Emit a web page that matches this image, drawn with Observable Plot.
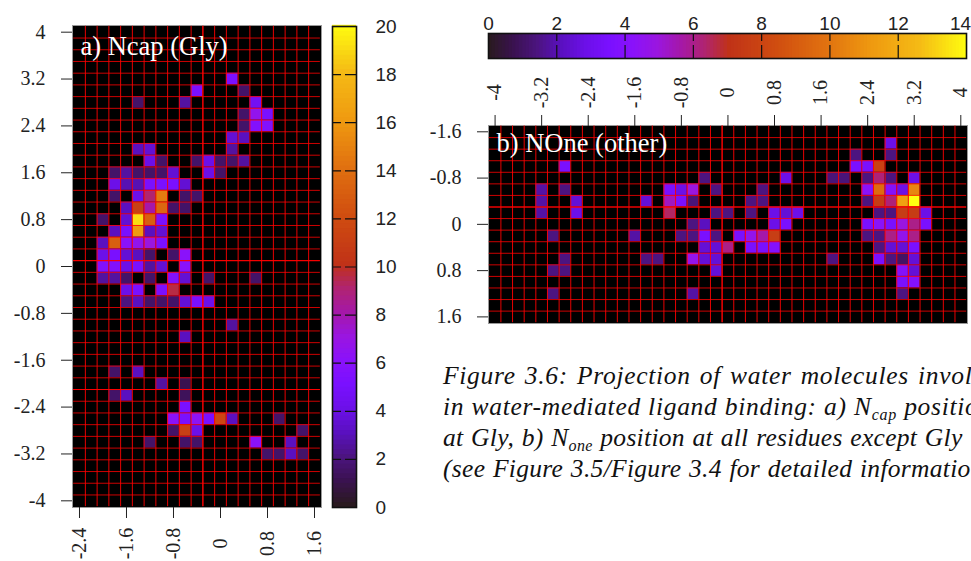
<!DOCTYPE html>
<html><head><meta charset="utf-8">
<script src="https://cdn.jsdelivr.net/npm/d3@7"></script>
<script src="https://cdn.jsdelivr.net/npm/@observablehq/plot@0.6"></script>
<style>
html,body{margin:0;padding:0;background:#fff;width:971px;height:561px;overflow:hidden}
#root{position:relative;width:971px;height:561px;overflow:hidden}
.cap{position:absolute;left:443px;white-space:nowrap;font:italic 25.5px "Liberation Serif",serif;color:#111;line-height:30px}
.cap sub{font-size:16px;line-height:0;vertical-align:-5px}
</style></head><body><div id="root"></div>
<script>
// Panel a) Ncap (Gly): one entry per occupied bin
const aY=[3.2, 3,3, 2.8,2.8,2.8, 2.6,2.6,2.6, 2.4,2.4,2.4, 2.2,2.2, 2,2,2,
 1.8,1.8,1.8,1.8,1.8,1.8,1.8, 1.6,1.6,1.6,1.6,1.6,1.6,1.6,1.6, 1.4,1.4,1.4,1.4,1.4,1.4,1.4,
 1.2,1.2,1.2,1.2,1.2,1.2, 1,1,1,1,1,1, .8,.8,.8,.8,.8, .6,.6,.6,.6,.6, .4,.4,.4,.4,.4,.4,
 .2,.2,.2,.2,.2,.2,.2, 0,0,0,0,0,0,0, -.2,-.2,-.2,-.2,-.2,-.2,-.2,-.2, -.4,-.4,-.4,-.4,
 -.6,-.6,-.6,-.6,-.6,-.6,-.6,-.6, -1, -1.2, -1.8,-1.8, -2,-2, -2.2,-2.2,-2.2, -2.4,
 -2.6,-2.6,-2.6,-2.6,-2.6,-2.6,-2.6, -2.8,-2.8,-2.8,-2.8, -3,-3,-3,-3,-3, -3.2,-3.2,-3.2,-3.2];
const aX=[.2, -.4,.4, -1.4,-.6,.6, .4,.6,.8, .4,.6,.8, .2,.4, -1.4,-1.2,.2,
 -1.2,-1,-.4,-.2,0,.2,.4, -1.8,-1.6,-1.4,-1.2,-1,-.8,-.2,0, -1.8,-1.6,-1.4,-1.2,-1,-.8,-.6,
 -1.8,-1.4,-1.2,-1,-.6,-.4, -1.6,-1.4,-1.2,-1,-.8,-.6, -2,-1.6,-1.4,-1.2,-1, -1.8,-1.6,-1.4,-1.2,-1, -2,-1.8,-1.6,-1.4,-1.2,-1,
 -2,-1.8,-1.6,-1.4,-1.2,-.8,-.6, -2,-1.8,-1.6,-1.4,-1.2,-1,-.6, -2,-1.8,-1.6,-1.2,-.8,-.6,-.2,.6, -1.6,-1.4,-1,-.8,
 -1.6,-1.4,-1.2,-1,-.8,-.6,-.4,-.2, .2, -.6, -1.8,-1.4, -1,-.6, -1.8,-1.6,-.6, -.6,
 -.8,-.6,-.4,-.2,0,.2,1, -.8,-.6,-.4,1.4, -1.2,-.6,-.4,.6,1.2, .8,1,1.2,1.4];
const aV=[5, 5,1.5, 1.5,2.5,4.5, 1.5,6.5,5, 1.5,5.5,5.5, 3.5,3, 3,3.5,2.5,
 4,1.5,1.5,4,1.5,1.5,2.5, 1.5,2.5,1.5,1.5,1.5,3.5,4,1.5, 4,2.8,2.8,5,5,5,3.5,
 1.5,4,9,14.5,1.5,1.5, 3,11,8,13.5,1.5,1.5, 1.5,3.5,19,13,5, 3,5,16,3,3.5, 3,13,6,6.5,7,5,
 4,5,3.5,3,1.5,1.5,6, 5.5,5.5,4,5,2.5,3.5,6, 2.5,2.5,1.5,1.5,5.5,3.5,1.5,1.5, 4,5,5,9.5,
 2,3,1.5,1.5,1.5,3.5,5,4, 2.5, 3, 1.5,3, 2.5,1, 1.5,3,1.2, 5,
 6,5,6.2,5,11.5,3,1.5, 1.5,11,4,1.5, 1.5,1.5,1.5,6,3, 1.5,1.5,3,1.5];

// Panel b) NOne (other): one entry per occupied bin
const bY=[-1.4, -1.2,-1.2, -1,-1,-1,-1, -.8,-.8,-.8,-.8,-.8,-.8,-.8,-.8,
 -.6,-.6,-.6,-.6,-.6,-.6,-.6,-.6,-.6,-.6,-.6,-.6,
 -.4,-.4,-.4,-.4,-.4,-.4,-.4,-.4,-.4,-.4,-.4,-.4,-.4,
 -.2,-.2,-.2,-.2,-.2,-.2,-.2,-.2,-.2,-.2,-.2,-.2,-.2,-.2,
 0,0,0,0,0,0,0,0,0,0,
 .2,.2,.2,.2,.2,.2,.2,.2,.2,.2,.2,.2,.2,.2,.2,
 .4,.4,.4,.4,.4,.4,.4,.4,.4,.4,
 .6,.6,.6,.6,.6,.6,.6,.6,.6,.6,.6,
 .8,.8,.8,.8,.8, 1,1, 1.2,1.2,1.2];
const bX=[2.8, 2.2,2.8, -2.8,2.2,2.4,2.6, -.4,1,1.8,2,2.4,2.6,2.8,3.2,
 -3.2,-2.8,-1,-.8,-.6,-.2,.6,2.4,2.6,2.8,3,3.2,
 -3.2,-2.6,-1.4,-1,-.8,-.6,.4,.6,2.4,2.6,2.8,3,3.2,
 -3.2,-2.6,-1,-.2,0,.4,.8,1,1.2,2.6,2.8,3,3.2,3.4,
 -.6,-.4,.8,1,2.4,2.6,2.8,3,3.2,3.4,
 -3,-1.6,-.8,-.6,-.4,-.2,.2,.4,.6,.8,2.4,2.6,2.8,3,3.2,
 -.4,-.2,0,.4,.6,.8,2.6,2.8,3,3.2,
 -2.8,-1.4,-1.2,-.6,-.4,-.2,1.8,2.6,2.8,3,3.2,
 -3,-2.8,-.2,3,3.2, 3,3.2, -3,-.6,3];
const bV=[2.8, 1.4,1.4, 3.5,3.5,3.5,7.8, 1.4,2.8,1.3,1.3,1.4,6.2,1.4,2.8,
 1.8,1.4,3.5,2.8,4.9,1.4,1.4,4.2,9.6,3.9,2.8,10.5,
 1.8,2.5,2.5,5.3,3.5,1.3,1.4,1.4,1.4,7.5,6.2,11.5,14,
 1.8,2.8,6.4,1.4,1.4,1.4,2.8,2.5,2.8,1.4,1.4,7.5,7.5,2.8,
 1.4,2.1,2.8,3.5,3.5,4.2,3.5,4.9,6,3.5,
 1.4,1.8,1.4,1.4,3.5,1.4,3.5,4.6,5.6,7.6,1.4,1.4,6,4.6,6,
 2.5,2.5,6,3.5,3.5,3.9,1.4,2.5,2.5,3.5,
 1.4,1.4,1.4,4.6,2.5,2.5,1.4,3.5,1.4,1,2.5,
 1.4,1.4,2.5,3.9,2.5, 3.5,3.9, 1.4,1.8,1.4];

// Axis ticks and grid
const aXTicks=[-2.4,-1.6,-.8,0,.8,1.6];
const aYTicks=[4,3.2,2.4,1.6,.8,0,-.8,-1.6,-2.4,-3.2,-4];
const bXTicks=[-4,-3.2,-2.4,-1.6,-.8,0,.8,1.6,2.4,3.2,4];
const bYTicks=[-1.6,-.8,0,.8,1.6];
const aGridX=[-2.3,-2.1,-1.9,-1.7,-1.5,-1.3,-1.1,-.9,-.7,-.5,-.3,-.1,.1,.3,.5,.7,.9,1.1,1.3,1.5];
const aGridY=[3.9,3.7,3.5,3.3,3.1,2.9,2.7,2.5,2.3,2.1,1.9,1.7,1.5,1.3,1.1,.9,.7,.5,.3,.1,-.1,-.3,-.5,-.7,-.9,-1.1,-1.3,-1.5,-1.7,-1.9,-2.1,-2.3,-2.5,-2.7,-2.9,-3.1,-3.3,-3.5,-3.7,-3.9];
const bGridX=[-3.9,-3.7,-3.5,-3.3,-3.1,-2.9,-2.7,-2.5,-2.3,-2.1,-1.9,-1.7,-1.5,-1.3,-1.1,-.9,-.7,-.5,-.3,-.1,.1,.3,.5,.7,.9,1.1,1.3,1.5,1.7,1.9,2.1,2.3,2.5,2.7,2.9,3.1,3.3,3.5,3.7,3.9];
const bGridY=[-1.5,-1.3,-1.1,-.9,-.7,-.5,-.3,-.1,.1,.3,.5,.7,.9,1.1,1.3,1.5];
// Grid lines that look brighter in the picture
const aBrightX=[-.3], aBrightY=[.1,-2.1], bBrightX=[-.1], bBrightY=[-.3];

// Colour bars
const aBarTicks=[0,2,4,6,8,10,12,14,16,18,20];
const bBarTicks=[0,2,4,6,8,10,12,14];
const rampStops=[0,1,2,3,4,5,6,7,8,9,10,12,14,16,18,20];
const rampColors=["#2a1a20","#3a1250","#4c1480","#5a10c0","#6c10e8","#7a10ff","#8a12fa","#9a16e0","#a518a8","#b02470","#c03218","#d04d10","#e07010","#ef9a10","#f5bb15","#ffff10"];

const serif='"Liberation Serif","Times New Roman",serif', sans='"Liberation Sans",Arial,sans-serif';
const root=document.getElementById("root");
const tf=d=>String(d);
function place(p,left,top){p.style.position="absolute";p.style.left=left+"px";p.style.top=top+"px";root.appendChild(p);}
const pts=(xs,ys,vs)=>xs.map((x,i)=>({x,y:ys[i],v:vs[i]}));
function cellMarks(data,gx,gy,bx,by,xr,yr){
  return [
    Plot.frame({fill:"black",stroke:"#999",strokeWidth:1}),
    Plot.rect(data,{x1:d=>d.x-.1,x2:d=>d.x+.1,y1:d=>d.y-.1,y2:d=>d.y+.1,fill:"v"}),
    Plot.ruleX(gx,{y1:yr[0],y2:yr[1],stroke:"#f00",strokeWidth:1,strokeOpacity:.9}),
    Plot.ruleY(gy,{x1:xr[0],x2:xr[1],stroke:"#f00",strokeWidth:1,strokeOpacity:.8}),
    Plot.ruleX(bx,{y1:yr[0],y2:yr[1],stroke:"#f00",strokeWidth:1}),
    Plot.ruleY(by,{x1:xr[0],x2:xr[1],stroke:"#f00",strokeWidth:1})
  ];
}
const common=(fam,size)=>({background:"transparent",fontFamily:fam,fontSize:size+"px",color:"#222",overflow:"visible"});

// Panel a
place(Plot.plot({
  width:330,height:561,marginLeft:72,marginRight:9,marginTop:25,marginBottom:54,
  style:common(serif,20),
  x:{domain:[-2.519,1.719],label:null},
  y:{domain:[-4.114,4.114],label:null},
  color:{type:"linear",domain:rampStops,range:rampColors},
  marks:[
    ...cellMarks(pts(aX,aY,aV),aGridX,aGridY,aBrightX,aBrightY,[-2.5,1.7],[-4.1,4.1]),
    Plot.axisX({ticks:aXTicks,tickFormat:tf,tickSize:11,tickPadding:25,tickRotate:-90,textAnchor:"middle",lineAnchor:"middle",anchor:"bottom",label:null}),
    Plot.axisY({ticks:aYTicks,tickFormat:tf,tickSize:11,tickPadding:16,anchor:"left",label:null}),
    Plot.text(["a) Ncap (Gly)"],{frameAnchor:"top-left",dx:8,dy:11,text:d=>d,fill:"white",fontSize:26.5,textAnchor:"start",lineAnchor:"top"})
  ]
}),0,0);

// Colour bar a
const aLevels=d3.range(0,20,.2);
place(Plot.plot({
  width:90,height:561,marginLeft:7,marginRight:59,marginTop:26,marginBottom:54,
  style:common(sans,19),
  y:{domain:[0,20],label:null},
  color:{type:"linear",domain:rampStops,range:rampColors},
  marks:[
    Plot.rect(aLevels,{y1:d=>d,y2:d=>d+.25,fill:d=>d}),
    Plot.ruleY(aBarTicks.slice(1,-1),{stroke:"#111",strokeWidth:1.2,strokeDasharray:"9,4,11"}),
    Plot.frame({stroke:"#111",strokeWidth:1.6}),
    Plot.axisY({ticks:aBarTicks,tickFormat:tf,tickSize:0,tickPadding:19,anchor:"right",label:null})
  ]
}),325,0);

// Colour bar b
const bLevels=d3.range(0,14,.1);
const scale7=rampStops.map(d=>d*.7);
place(Plot.plot({
  width:490,height:70,marginLeft:8,marginRight:4,marginTop:33,marginBottom:12,
  style:common(sans,19),
  x:{domain:[0,14],label:null},
  color:{type:"linear",domain:scale7,range:rampColors},
  marks:[
    Plot.rect(bLevels,{x1:d=>d,x2:d=>d+.13,fill:d=>d}),
    Plot.ruleX(bBarTicks.slice(1,-1),{stroke:"#111",strokeWidth:1.2,strokeDasharray:"8,4,13"}),
    Plot.frame({stroke:"#111",strokeWidth:1.6}),
    Plot.axisX({ticks:bBarTicks.slice(0,-1),tickFormat:tf,tickSize:0,tickPadding:4,anchor:"top",label:null}),
    Plot.text(bBarTicks.slice(-1),{x:d=>d,text:tf,frameAnchor:"top",dy:-4,dx:-6,lineAnchor:"bottom",fill:"#222",fontSize:19})
  ]
}),480,0);

// Panel b
place(Plot.plot({
  width:541,height:340,marginLeft:58,marginRight:4,marginTop:125,marginBottom:17,
  style:common(serif,20),
  x:{domain:[-4.113,4.115],label:null},
  y:{domain:[1.714,-1.709],label:null},
  color:{type:"linear",domain:scale7,range:rampColors},
  marks:[
    ...cellMarks(pts(bX,bY,bV),bGridX,bGridY,bBrightX,bBrightY,[-4.1,4.1],[-1.7,1.7]),
    Plot.axisX({ticks:bXTicks,tickFormat:tf,tickSize:11,tickPadding:22,tickRotate:-90,textAnchor:"middle",lineAnchor:"middle",anchor:"top",label:null}),
    Plot.axisY({ticks:bYTicks,tickFormat:tf,tickSize:11,tickPadding:16,anchor:"left",label:null}),
    Plot.text(["b) NOne (other)"],{frameAnchor:"top-left",dx:8,dy:8,text:d=>d,fill:"white",fontSize:26.5,textAnchor:"start",lineAnchor:"top"})
  ]
}),430,0);

// Caption
const capLines=[
  {t:361,ws:2,ls:.7,h:'Figure 3.6: Projection of water molecules involved'},
  {t:392,ws:.2,ls:.7,h:'in water-mediated ligand binding: a) N<sub>cap</sub> position'},
  {t:423,ws:1,ls:.3,h:'at Gly, b) N<sub>one</sub> position at all residues except Gly'},
  {t:454,ws:1,ls:.3,h:'(see Figure 3.5/Figure 3.4 for detailed information)'}
];
capLines.forEach(l=>{const d=document.createElement("div");d.className="cap";d.style.top=l.t+"px";d.style.wordSpacing=l.ws+"px";d.style.letterSpacing=l.ls+"px";d.innerHTML=l.h;root.appendChild(d);});
</script></body></html>
